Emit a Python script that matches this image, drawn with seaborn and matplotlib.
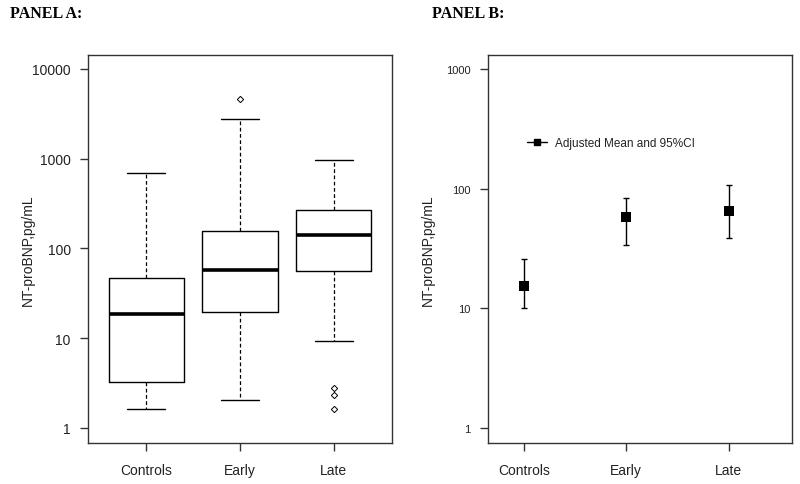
import matplotlib
matplotlib.use("Agg")
import matplotlib.pyplot as plt
from matplotlib.lines import Line2D
import seaborn as sns
import pandas as pd

# ---------------- data ----------------
categories = ["Controls", "Early", "Late"]

# Panel A: box-plot summaries (NT-proBNP, pg/mL)
box_whislo = [1.63, 2.05, 9.2]
box_q1 = [3.24, 19.8, 55.5]
box_med = [18.5, 58.0, 143.0]
box_q3 = [46.4, 158.0, 271.0]
box_whishi = [699.0, 2735.0, 957.0]
box_fliers = [[], [4640.0], [2.78, 2.31, 1.64]]

# Panel B: adjusted means and 95% CI
adj_mean = [15.3, 58.1, 65.2]
ci_low = [10.0, 34.1, 39.0]
ci_high = [25.9, 83.0, 107.0]

yticks_a = [1, 10, 100, 1000, 10000]
yticks_b = [1, 10, 100, 1000]
ylabel = "NT-proBNP,pg/mL"
legend_label = "Adjusted Mean and 95%CI"

# ---------------- style ----------------
sns.set_theme(style="ticks")
plt.rcParams["font.family"] = ["Liberation Sans", "DejaVu Sans"]
TXT = "#222222"
plt.rcParams.update({
    "axes.edgecolor": "#333333",
    "axes.linewidth": 1.0,
    "xtick.color": "#333333",
    "ytick.color": "#333333",
    "xtick.labelcolor": TXT,
    "ytick.labelcolor": TXT,
})

fig = plt.figure(figsize=(8, 4.85), dpi=100)
axA = fig.add_axes([88 / 800, 41 / 485, 304 / 800, 388 / 485])
axB = fig.add_axes([488 / 800, 41 / 485, 304 / 800, 388 / 485])

# ---------------- Panel A ----------------
stats = []
for c, lo, q1, m, q3, hi, fl in zip(categories, box_whislo, box_q1, box_med,
                                     box_q3, box_whishi, box_fliers):
    stats.append(dict(label=c, whislo=lo, q1=q1, med=m, q3=q3, whishi=hi,
                      fliers=fl))

axA.set_yscale("log")
axA.bxp(stats, positions=range(len(categories)), widths=0.8, capwidths=0.4,
        showfliers=True, patch_artist=False,
        boxprops=dict(color="black", lw=1.0),
        medianprops=dict(color="black", lw=2.6, solid_capstyle="butt"),
        whiskerprops=dict(color="black", lw=0.9, linestyle=(0, (3, 2))),
        capprops=dict(color="black", lw=1.0),
        flierprops=dict(marker="D", markersize=3.2, markerfacecolor="white",
                        markeredgecolor="black", markeredgewidth=0.7,
                        linestyle="none"))
axA.set_xlim(-0.62, 2.62)
axA.set_ylim(0.68, 14300)
axA.set_yticks(yticks_a)
axA.set_yticklabels([str(t) for t in yticks_a])
axA.yaxis.set_minor_locator(matplotlib.ticker.NullLocator())
axA.set_xticks(range(len(categories)))
axA.set_xticklabels(categories)
axA.tick_params(axis="both", length=6, width=1.0, direction="out")
axA.tick_params(axis="y", labelsize=10, pad=6.5)
axA.tick_params(axis="x", labelsize=10, pad=8.5)
axA.set_ylabel(ylabel, fontsize=10, color=TXT)
axA.yaxis.set_label_coords(-0.174, 0.5)

# ---------------- Panel B ----------------
dfB = pd.DataFrame({"group": categories, "mean": adj_mean,
                    "lo": ci_low, "hi": ci_high})
axB.set_yscale("log")
xpos = list(range(len(categories)))
axB.errorbar(xpos, dfB["mean"],
             yerr=[dfB["mean"] - dfB["lo"], dfB["hi"] - dfB["mean"]],
             fmt="none", ecolor="black", elinewidth=1.0, capsize=2.2,
             capthick=1.0, zorder=2)
sns.scatterplot(x=xpos, y=dfB["mean"], ax=axB, marker="s", s=42,
                color="black", edgecolor="black", linewidth=0, zorder=3,
                legend=False)
axB.set_xlim(-0.35, 2.62)
axB.set_ylim(0.75, 1309)
axB.set_yticks(yticks_b)
axB.set_yticklabels([str(t) for t in yticks_b])
axB.yaxis.set_minor_locator(matplotlib.ticker.NullLocator())
axB.set_xticks(xpos)
axB.set_xticklabels(categories)
axB.tick_params(axis="both", length=6, width=1.0, direction="out")
axB.tick_params(axis="y", labelsize=8, pad=6.5)
axB.tick_params(axis="x", labelsize=10, pad=8.5)
axB.set_ylabel(ylabel, fontsize=10, color=TXT)
axB.yaxis.set_label_coords(-0.174, 0.5)
axB.set_xlabel("")

handle = Line2D([], [], color="black", lw=1.0, marker="s", markersize=4)
leg = axB.legend([handle], [legend_label], loc="center left",
                 bbox_to_anchor=(0.128, 0.773), frameon=False,
                 fontsize=8.5, handlelength=1.7, handletextpad=0.7,
                 borderpad=0, borderaxespad=0)
for t in leg.get_texts():
    t.set_color(TXT)

# ---------------- titles ----------------
fig.text(10 / 800, 1 - 14 / 485, "PANEL A:", family="Liberation Serif",
         fontweight="bold", fontsize=11.5, va="center", ha="left", color="black")
fig.text(432 / 800, 1 - 14 / 485, "PANEL B:", family="Liberation Serif",
         fontweight="bold", fontsize=11.5, va="center", ha="left", color="black")

fig.savefig("out.png", dpi=100)
